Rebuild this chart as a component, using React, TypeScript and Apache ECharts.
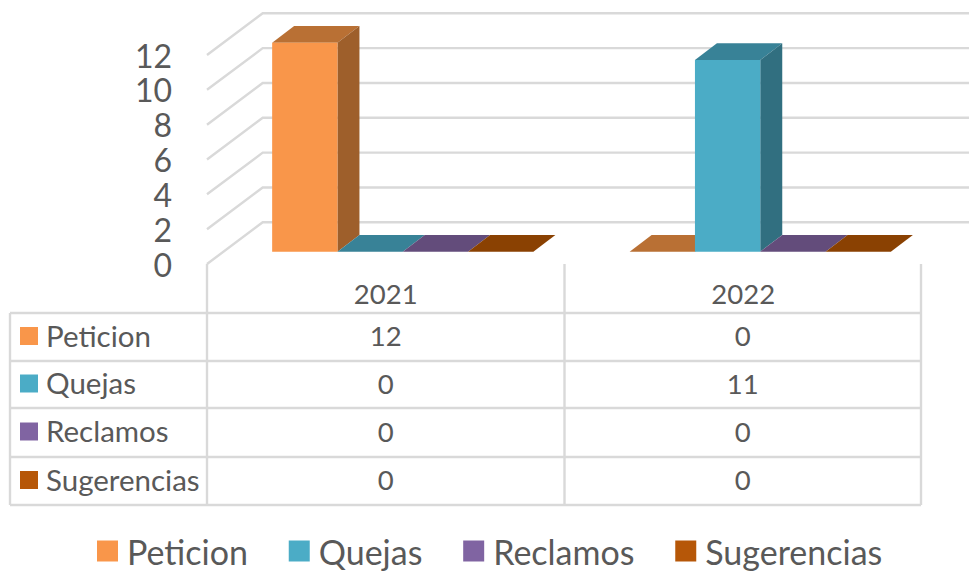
import React, { useEffect, useRef } from "react";
import * as echarts from "echarts";

const categories = ["2021", "2022"];
const seriesNames = ["Peticion", "Quejas", "Reclamos", "Sugerencias"];
const peticion = [12, 0];
const quejas = [0, 11];
const reclamos = [0, 0];
const sugerencias = [0, 0];
const yTicks = [0, 2, 4, 6, 8, 10, 12];

const seriesValues = [peticion, quejas, reclamos, sugerencias];
const frontColors = ["#F9964A", "#4BACC6", "#8064A2", "#B65708"];
const sideColors = ["#9E5F2B", "#316F80", "#4F3C63", "#6E3403"];
const topColors = ["#B97034", "#388297", "#634C7B", "#8A4102"];

const FONT = "Lato, Carlito, sans-serif";
const TEXT = "#595959";
const LINE = "#D9D9D9";
const LINE_W = 2.4;
const GRID = { left: 207, top: 55, width: 715, height: 209 };
const WALL_DX = 55.7;
const WALL_DY = 41.7;
const BAR_W = 65.3;
const BAR_DX = 17;
const BAR_DY = 12.3;
const DEPTH_X = 22;
const DEPTH_Y = 16.8;

function wallItem(params: any, api: any) {
  const cs = params.coordSys;
  const y = api.coord([0, api.value(1)])[1];
  return {
    type: "polyline",
    silent: true,
    shape: {
      points: [
        [cs.x, y],
        [cs.x + WALL_DX, y - WALL_DY],
        [cs.x + cs.width + WALL_DX, y - WALL_DY],
      ],
    },
    style: { stroke: LINE, fill: "none", lineWidth: LINE_W },
  };
}

function barItem(s: number) {
  return (_params: any, api: any) => {
    const cat = api.value(0);
    const base = api.coord([cat, 0]);
    const top = api.coord([cat, api.value(1)]);
    const x0 = base[0] + BAR_DX + (s - 2) * BAR_W;
    const x1 = x0 + BAR_W;
    const yb = base[1] - BAR_DY;
    const yt = top[1] - BAR_DY;
    return {
      type: "group",
      children: [
        {
          type: "polygon",
          shape: { points: [[x0, yt], [x1, yt], [x1 + DEPTH_X, yt - DEPTH_Y], [x0 + DEPTH_X, yt - DEPTH_Y]] },
          style: { fill: topColors[s] },
        },
        {
          type: "polygon",
          shape: { points: [[x1, yt], [x1 + DEPTH_X, yt - DEPTH_Y], [x1 + DEPTH_X, yb - DEPTH_Y], [x1, yb]] },
          style: { fill: sideColors[s] },
        },
        {
          type: "polygon",
          shape: { points: [[x0, yt], [x1, yt], [x1, yb], [x0, yb]] },
          style: { fill: frontColors[s] },
        },
      ],
    };
  };
}

function tableGraphics() {
  const rowLines = [313, 361, 408, 457, 505];
  const colLines = [207, 564.5, 921];
  const left = 10;
  const els: any[] = [];
  rowLines.forEach((y) =>
    els.push({ type: "line", silent: true, shape: { x1: left, y1: y, x2: colLines[2], y2: y }, style: { stroke: LINE, lineWidth: LINE_W } })
  );
  colLines.forEach((x) =>
    els.push({ type: "line", silent: true, shape: { x1: x, y1: 264, x2: x, y2: rowLines[4] }, style: { stroke: LINE, lineWidth: LINE_W } })
  );
  els.push({ type: "line", silent: true, shape: { x1: left, y1: rowLines[0], x2: left, y2: rowLines[4] }, style: { stroke: LINE, lineWidth: LINE_W } });
  seriesNames.forEach((name, r) => {
    const cy = (rowLines[r] + rowLines[r + 1]) / 2;
    els.push({ type: "rect", silent: true, shape: { x: 20, y: cy - 10, width: 18, height: 18 }, style: { fill: frontColors[r] } });
    els.push({
      type: "text",
      silent: true,
      x: 46,
      y: cy - 2,
      style: { text: name, fill: TEXT, font: `29.5px ${FONT}`, textAlign: "left", textVerticalAlign: "middle" },
    });
    seriesValues[r].forEach((v, c) => {
      els.push({
        type: "text",
        silent: true,
        x: (colLines[c] + colLines[c + 1]) / 2,
        y: cy - 1.5,
        style: { text: String(v), fill: TEXT, font: `27.5px ${FONT}`, textAlign: "center", textVerticalAlign: "middle" },
      });
    });
  });
  return els;
}

export default function App() {
  const ref = useRef<HTMLDivElement>(null);
  useEffect(() => {
    if (!ref.current) return;
    const chart = echarts.init(ref.current, undefined, { renderer: "svg" });
    chart.setOption({
      animation: false,
      backgroundColor: "#FFFFFF",
      textStyle: { fontFamily: FONT },
      grid: { left: GRID.left, top: GRID.top, width: GRID.width, height: GRID.height, containLabel: false },
      xAxis: {
        type: "category",
        data: categories,
        axisLine: { show: false },
        axisTick: { show: false },
        splitLine: { show: false },
        axisLabel: { color: TEXT, fontSize: 27.5, fontFamily: FONT, margin: 15 },
      },
      yAxis: {
        type: "value",
        min: 0,
        max: 12,
        interval: 2,
        axisLine: { show: false },
        axisTick: { show: false },
        splitLine: { show: false },
        axisLabel: { color: TEXT, fontSize: 32, lineHeight: 30, fontFamily: FONT, margin: 35 },
      },
      legend: {
        data: seriesNames.map((name) => ({ name, icon: "rect" })),
        left: 97,
        top: 534,
        padding: 0,
        itemWidth: 21,
        itemHeight: 21,
        itemGap: 40.8,
        textStyle: { color: TEXT, fontSize: 34, lineHeight: 34, fontFamily: FONT, padding: [0, 0, 0, 4] },
      },
      graphic: tableGraphics(),
      series: [
        {
          type: "custom",
          name: "grid",
          silent: true,
          z: 1,
          renderItem: wallItem,
          encode: { x: 0, y: 1 },
          data: yTicks.map((t) => [0, t]),
        },
        ...seriesNames.map((name, s) => ({
          type: "custom",
          name,
          z: 2,
          itemStyle: { color: frontColors[s] },
          renderItem: barItem(s),
          encode: { x: 0, y: 1 },
          data: seriesValues[s].map((v, i) => [i, v]),
        })),
      ],
    });
    return () => chart.dispose();
  }, []);
  return <div ref={ref} style={{ position: "absolute", left: 0, top: 0, width: 969, height: 571 }} />;
}
